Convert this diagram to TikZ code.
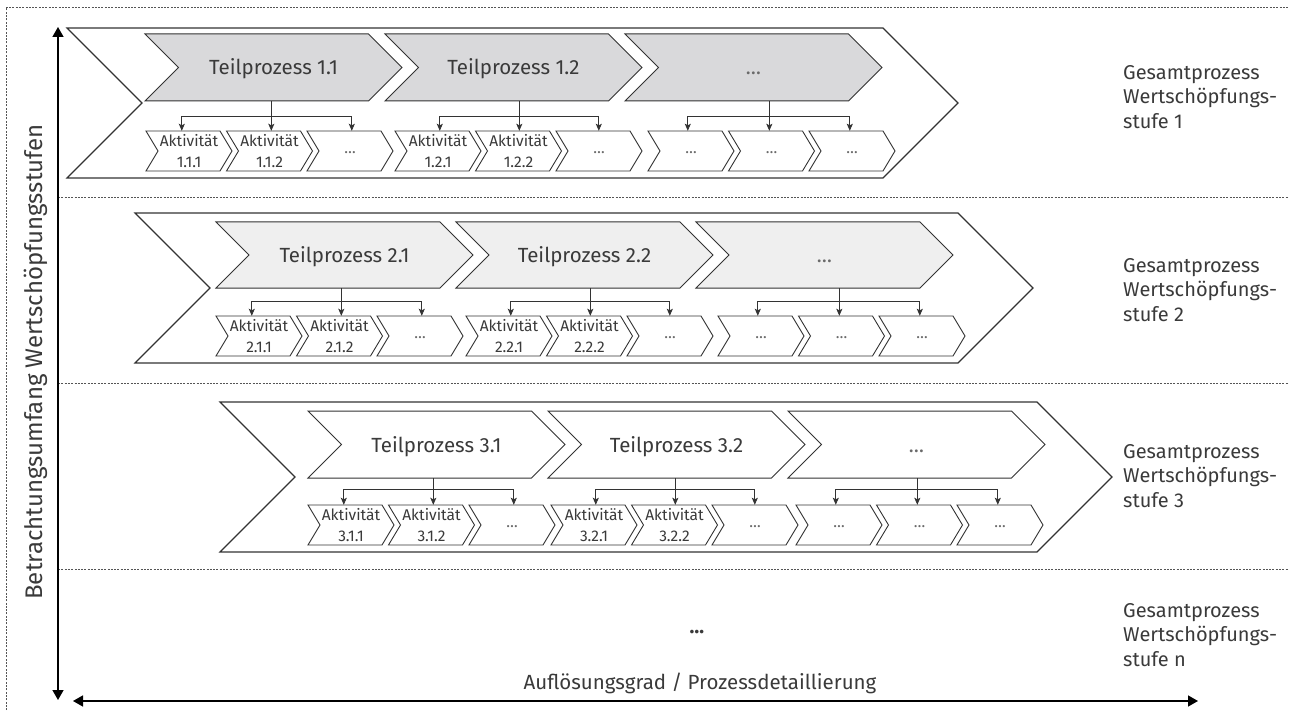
\documentclass[tikz,border=0pt]{standalone}
\usepackage{fontspec}
\IfFontExistsTF{Fira Sans Book}{\setmainfont{Fira Sans Book}}{\setmainfont{Fira Sans}}
\usetikzlibrary{arrows.meta}

\definecolor{linec}{HTML}{333333}
\definecolor{txt}{HTML}{3A3A3A}
\definecolor{dotc}{HTML}{6A6A6A}
\definecolor{tpA}{HTML}{D9D9DB}
\definecolor{tpB}{HTML}{EFEFEF}
\definecolor{tpC}{HTML}{FFFFFF}
\definecolor{dashc}{HTML}{555555}

% chevron: name, left x, top y, width, height, point depth, shape style, text style, text
\newcommand\chev[9]{%
  \draw[#7] (#2,#3) -- ++({#4-(#6)},0) -- ++({#6},{(#5)/2}) -- ++({-(#6)},{(#5)/2})
    -- ++({-(#4)+(#6)},0) -- ++({#6},{-(#5)/2}) -- cycle;
  \node[#8, minimum width={(#4)*1pt}, minimum height={(#5)*1pt}, inner sep=0pt]
    (#1) at ({#2+(#4)/2},{#3+(#5)/2}) {#9};
}
\newcommand\actdots{\textcolor{dotc}{\dots}\rule{0pt}{6pt}}

\tikzset{
  bigchev/.style={draw=linec, line width=1.1pt, fill=white, line join=miter},
  tpchev/.style={draw=linec, line width=1pt, line join=miter},
  actchev/.style={draw=linec, line width=0.9pt, fill=white, line join=miter},
  plain/.style={},
  tptext/.style={font=\fontsize{20.5}{24}\selectfont, text=txt, text height=15pt, text depth=0pt},
  acttext/.style={font=\fontsize{15.5}{21}\selectfont, text=txt, align=center},
  conn/.style={draw=linec, line width=0.9pt, -{Stealth[length=7pt,width=6pt,inset=1.5pt]}},
  connboth/.style={draw=linec, line width=0.9pt,
    {Stealth[length=7pt,width=6pt,inset=1.5pt]}-{Stealth[length=7pt,width=6pt,inset=1.5pt]}},
  sep/.style={draw=dashc, line width=0.7pt, dash pattern=on 2pt off 1.3pt},
  axis/.style={draw=black, line width=1.4pt,
    {Triangle[length=10pt,width=11pt]}-{Triangle[length=10pt,width=11pt]}},
  rlabel/.style={font=\fontsize{20}{24.5}\selectfont, text=txt, align=left, anchor=west, inner sep=0pt},
  axlabel/.style={font=\fontsize{20.5}{24}\selectfont, text=txt, inner sep=0pt},
}

\begin{document}
\begin{tikzpicture}[x=1pt, y=-1pt]
\useasboundingbox (0,0) rectangle (1289,711);

% outer dashed frame and row separators
\draw[sep] (6,720) -- (6,7) -- (1300,7);
\foreach \yy [count=\k] in {197,383,569} {
  \coordinate (sl\k) at (58,\yy);
  \coordinate (sr\k) at (1300,\yy);
  \draw[sep] (sl\k) -- (sr\k);
}

% value-added stages with sub-processes and activities
\foreach \r/\bL/\bT/\bW/\tL/\tT/\tH/\aT/\bY/\gA/\gB/\gC/\tpfill in {
   1/67/28/891/145/34/67/131/116/146/395/648/tpA,
   2/135/213/898/216/222/66/316/301/216/466/718/tpB,
   3/220/402/892/308/411/67/505/489/308/551/796/tpC}
{
  \chev{big\r}{\bL}{\bT}{\bW}{150}{75}{bigchev}{plain}{}
  \coordinate (bar\r) at (0,\bY);
  \foreach \g/\gL/\oA/\oB/\oC in {1/\gA/36/45/45, 2/\gB/45/44/43, 3/\gC/40/41/41} {
    \pgfmathsetmacro\tx{\tL+240*(\g-1)}
    \ifnum\g<3 \def\tlabel{Teilprozess \r.\g}\else\def\tlabel{\textcolor{dotc}{\dots}}\fi
    \chev{tp\r\g}{\tx}{\tT}{257}{\tH}{(\tH)/2}{tpchev,fill=\tpfill}{tptext}{\tlabel}
    \foreach \i in {1,2,3} {
      \pgfmathsetmacro\ax{\gL+80.5*(\i-1)}
      \ifnum\g<3 \ifnum\i<3 \def\alabel{Aktivität\\\r.\g.\i}\else\def\alabel{\actdots}\fi
      \else\def\alabel{\actdots}\fi
      \chev{a\r\g\i}{\ax}{\aT}{86}{40}{12}{actchev}{acttext}{\alabel}
    }
    \coordinate (d\r\g1) at ([xshift=\oA pt]a\r\g1.north west);
    \coordinate (d\r\g2) at ([xshift=\oB pt]a\r\g2.north west);
    \coordinate (d\r\g3) at ([xshift=\oC pt]a\r\g3.north west);
    \draw[conn] (d\r\g2 |- tp\r\g.south) -- (d\r\g2);
    \draw[connboth] (d\r\g1) -- (d\r\g1 |- bar\r) -- (d\r\g3 |- bar\r) -- (d\r\g3);
  }
}

% stage labels on the right
\node[rlabel] (lab1) at (1123,97)  {Gesamtprozess\\Wertschöpfungs-\\stufe 1};
\node[rlabel] (lab2) at (1123,290) {Gesamtprozess\\Wertschöpfungs-\\stufe 2};
\node[rlabel] (lab3) at (1123,476) {Gesamtprozess\\Wertschöpfungs-\\stufe 3};
\node[rlabel] (labn) at (1123,635) {Gesamtprozess\\Wertschöpfungs-\\stufe n};

% further stages
\node[axlabel, font=\bfseries\fontsize{20}{24}\selectfont] (moren) at (697,632) {\dots};

% axes
\coordinate (ytop) at (58,27);
\coordinate (ybot) at (58,700);
\draw[axis] (ybot) -- (ytop);
\coordinate (xl) at (73,701);
\coordinate (xr) at (1198,701);
\draw[axis] (xl) -- (xr);
\node[axlabel] (xlab) at (700,683) {Auflösungsgrad / Prozessdetaillierung};
\node[axlabel, font=\fontsize{24}{28}\selectfont, rotate=90] (ylab) at (36,362)
  {Betrachtungsumfang Wertschöpfungsstufen};
\end{tikzpicture}
\end{document}
